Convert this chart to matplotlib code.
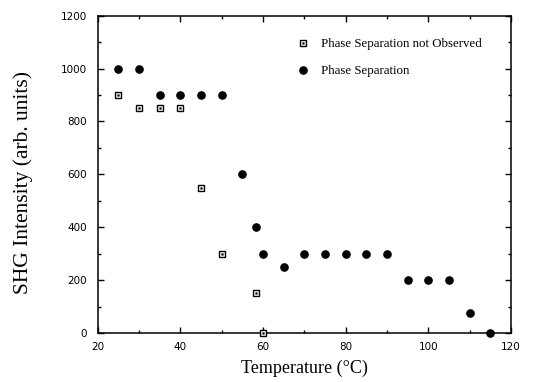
import matplotlib
matplotlib.use("Agg")
import matplotlib.pyplot as plt
from matplotlib.ticker import MultipleLocator
from matplotlib.legend_handler import HandlerTuple

# data
not_obs_temp = [25, 30, 35, 40, 45, 50, 58.3, 60]
not_obs_shg = [900, 850, 850, 850, 550, 300, 150, 0]

sep_temp = [25, 30, 35, 40, 45, 50, 55, 58.3, 60, 65, 70, 75, 80, 85, 90,
            95, 100, 105, 110, 115]
sep_shg = [1000, 1000, 900, 900, 900, 900, 600, 400, 300, 250, 300, 300,
           300, 300, 300, 200, 200, 200, 75, 0]

fig = plt.figure(figsize=(5.35, 3.82), dpi=100)
ax = fig.add_axes([0.1826, 0.128, 0.7724, 0.831])

sq, = ax.plot(not_obs_temp, not_obs_shg, ls="none", marker="s", ms=4.5,
              mfc="white", mec="black", mew=1.0, clip_on=False, zorder=3)
dot, = ax.plot(not_obs_temp, not_obs_shg, ls="none", marker="s", ms=1.2,
               mfc="black", mec="black", mew=0.3, clip_on=False, zorder=4)
circ, = ax.plot(sep_temp, sep_shg, ls="none", marker="o", ms=5.2,
                mfc="black", mec="black", clip_on=False, zorder=3)

ax.set_xlim(20, 120)
ax.set_ylim(0, 1200)
ax.xaxis.set_major_locator(MultipleLocator(20))
ax.xaxis.set_minor_locator(MultipleLocator(10))
ax.yaxis.set_major_locator(MultipleLocator(200))
ax.yaxis.set_minor_locator(MultipleLocator(100))
ax.tick_params(which="both", direction="in", top=True, right=True,
               labelsize=7.5, width=1.0)
ax.tick_params(which="major", length=4)
ax.tick_params(which="minor", length=2.5)
ax.tick_params(axis="x", pad=6.5)
ax.tick_params(axis="y", pad=7.5)
for lab in ax.get_xticklabels() + ax.get_yticklabels():
    lab.set_family("DejaVu Sans")
for s in ax.spines.values():
    s.set_linewidth(1.1)

serif = ["Liberation Serif", "DejaVu Serif"]
ax.set_xlabel("Temperature (\u00b0C)", family=serif, fontsize=13)
ax.set_ylabel("SHG Intensity (arb. units)", family=serif, fontsize=15.5)
ax.xaxis.set_label_coords(0.5, -0.083)
ax.yaxis.set_label_coords(-0.156, 0.473)

leg = ax.legend([(sq, dot), circ],
                ["Phase Separation not Observed", "Phase Separation"],
                handler_map={tuple: HandlerTuple(ndivide=1, pad=0)},
                loc="upper left", bbox_to_anchor=(0.452, 0.965), frameon=False,
                prop={"family": serif, "size": 9.3}, handlelength=1.0,
                handletextpad=0.9, labelspacing=1.15)

fig.savefig("out.png", dpi=100)
